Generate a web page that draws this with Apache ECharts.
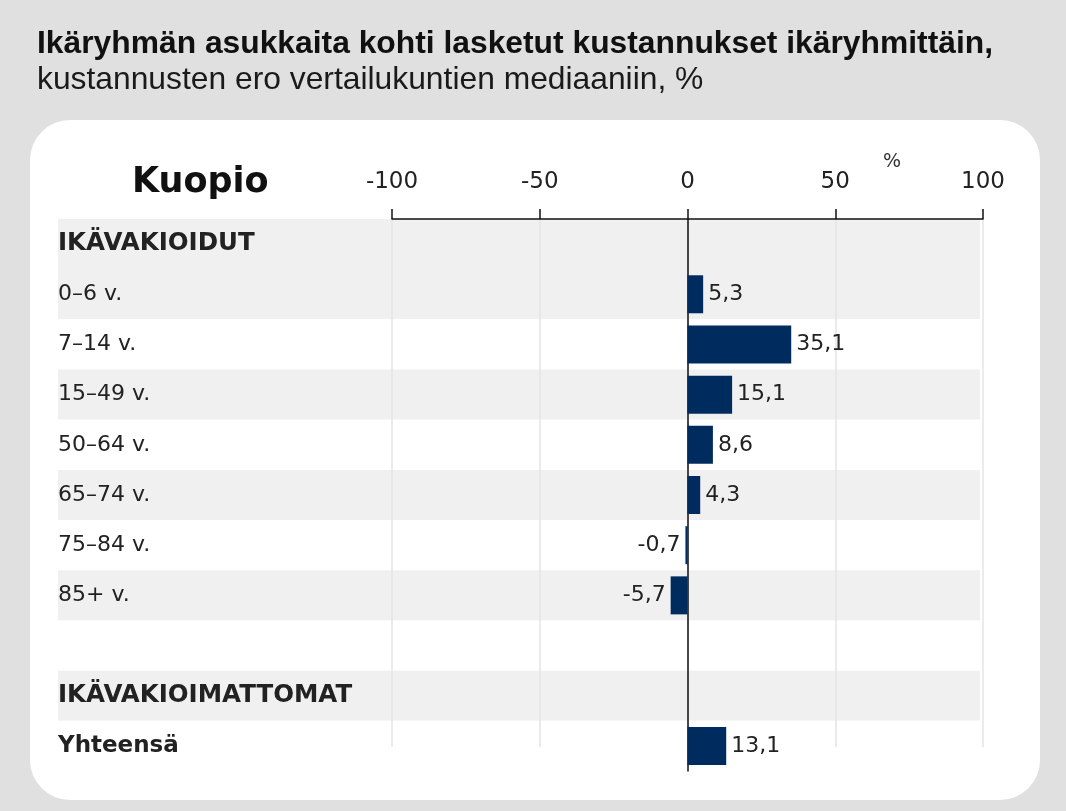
<!DOCTYPE html>
<html>
<head>
<meta charset="utf-8">
<script src="https://cdn.jsdelivr.net/npm/echarts@6/dist/echarts.min.js"></script>
<style>
  html, body { margin: 0; padding: 0; background: #e0e0e0; }
  #chart { width: 1066px; height: 811px; }
</style>
</head>
<body>
<div id="chart"></div>
<script>
const categories = ['IKÄVAKIOIDUT', '0–6 v.', '7–14 v.', '15–49 v.', '50–64 v.', '65–74 v.', '75–84 v.', '85+ v.', '', 'IKÄVAKIOIMATTOMAT', 'Yhteensä']
const headerCategories = ['IKÄVAKIOIDUT', 'IKÄVAKIOIMATTOMAT']
const totalCategory = 'Yhteensä'
const values = [null, 5.3, 35.1, 15.1, 8.6, 4.3, -0.7, -5.7, null, null, 13.1]
const bandColors = ['#f0f0f0', '#f0f0f0', '#ffffff', '#f0f0f0', '#ffffff', '#f0f0f0', '#ffffff', '#f0f0f0', '#ffffff', '#f0f0f0', '#ffffff']
const xTicks = { min: -100, max: 100, interval: 50 }

const chart = echarts.init(document.getElementById('chart'))

const fmt = v => String(v).replace('.', ',')

const catData = categories.map(c => {
  if (headerCategories.includes(c)) return { value: c, textStyle: { fontWeight: 'bold', fontSize: 24.5 } }
  if (c === totalCategory) return { value: c, textStyle: { fontWeight: 'bold', fontSize: 23 } }
  return c
})

const barData = values.map(v => v == null ? null : {
  value: v,
  label: { position: v < 0 ? 'left' : 'right' }
})

const option = {
  backgroundColor: '#e0e0e0',
  title: {
    text: 'Ikäryhmän asukkaita kohti lasketut kustannukset ikäryhmittäin,',
    subtext: 'kustannusten ero vertailukuntien mediaaniin, %',
    left: 32,
    top: 23,
    itemGap: 4,
    textStyle: { fontFamily: 'Liberation Sans', fontSize: 31.8, fontWeight: 'bold', color: '#111' },
    subtextStyle: { fontFamily: 'Liberation Sans', fontSize: 31.8, color: '#1a1a1a' }
  },
  graphic: [
    {
      type: 'rect', z: -10, silent: true,
      shape: { x: 30, y: 120, width: 1010, height: 680, r: 40 },
      style: { fill: '#ffffff' }
    },
    {
      type: 'text', left: 132, top: 165,
      style: { text: 'Kuopio', fontFamily: 'DejaVu Sans', fontSize: 35, fontWeight: 'bold', fill: '#111' }
    },
    {
      type: 'text', left: 883, top: 153,
      style: { text: '%', fontFamily: 'DejaVu Sans', fontSize: 19, fill: '#333' }
    }
  ],
  grid: [
    { left: 58, right: 86, top: 219, height: 552 },
    { left: 392, right: 83, top: 219, height: 528 },
    { left: 392, right: 83, top: 219, height: 552 }
  ],
  xAxis: [
    { gridIndex: 0, type: 'value', show: false, min: 0, max: 1 },
    {
      gridIndex: 1, type: 'value', ...xTicks,
      axisLine: { show: false }, axisTick: { show: false }, axisLabel: { show: false },
      splitLine: { show: true, lineStyle: { color: '#e4e4e4', width: 1.5 } }
    },
    {
      gridIndex: 2, type: 'value', position: 'top', ...xTicks,
      axisLine: { show: true, lineStyle: { color: '#111', width: 1.5 } },
      axisTick: { show: true, length: 10, lineStyle: { color: '#111', width: 1.5 } },
      axisLabel: {
        margin: 25, fontFamily: 'DejaVu Sans', fontSize: 23, color: '#222'
      },
      splitLine: { show: false }
    }
  ],
  yAxis: [
    {
      gridIndex: 0, type: 'category', inverse: true, data: catData,
      axisLine: { show: false }, axisTick: { show: false },
      axisLabel: {
        inside: true, margin: 0, fontFamily: 'DejaVu Sans', fontSize: 22, color: '#222'
      },
      splitArea: { show: true, areaStyle: { color: bandColors } }
    },
    { gridIndex: 1, type: 'value', show: false },
    {
      gridIndex: 2, type: 'category', inverse: true, data: categories,
      axisLine: { show: true, onZero: true, lineStyle: { color: '#111', width: 1.5 } },
      axisTick: { show: false }, axisLabel: { show: false }
    }
  ],
  series: [
    {
      type: 'bar',
      xAxisIndex: 2,
      yAxisIndex: 2,
      data: barData,
      barWidth: 38,
      z: 5,
      itemStyle: { color: '#002b5e' },
      label: {
        show: true,
        distance: 5,
        fontFamily: 'DejaVu Sans',
        fontSize: 22,
        color: '#222',
        formatter: p => fmt(p.value)
      }
    }
  ]
}

chart.setOption(option)
</script>
</body>
</html>
